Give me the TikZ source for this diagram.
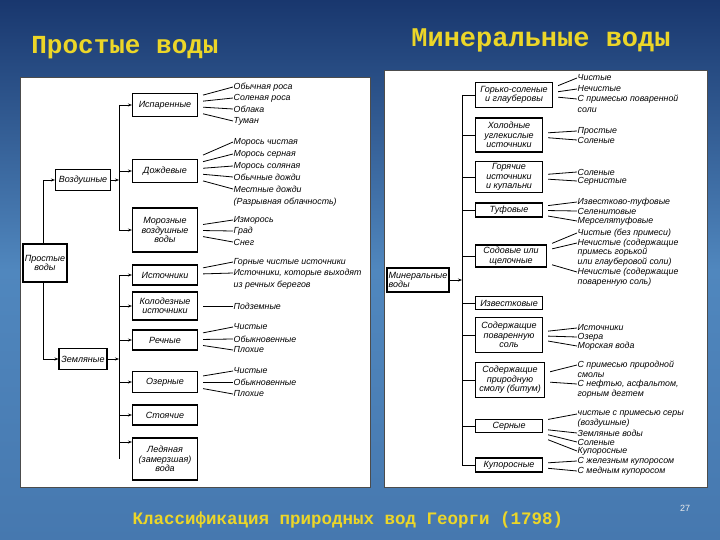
\documentclass[tikz,border=0pt]{standalone}
\usepackage{fontspec}
\setmainfont{Liberation Sans}
\newfontfamily\monof{Liberation Mono}
\usetikzlibrary{calc,arrows.meta}
\definecolor{ttl}{RGB}{236,214,40}
\tikzset{
 bx/.style={draw,line width=1.1pt,fill=white,align=center,inner sep=1pt,font=\fontsize{9}{9.5}\selectfont\itshape},
 lf/.style={anchor=west,inner sep=0.5pt,font=\fontsize{8.8}{9}\selectfont\itshape},
 ln/.style={line width=0.8pt},
 ar/.style={line width=0.8pt,-{Stealth[length=4pt,width=3pt]}},
 ttlst/.style={text=ttl,font=\monof\bfseries}
}
\newcommand{\lline}[2]{\draw[ln] ($(#1.east)!0.55!(#1.east|-#2.west)+(5,0)$) -- (#2.west);}
\begin{document}
\begin{tikzpicture}[x=1pt,y=-1pt]
\useasboundingbox (0,0) rectangle (720,540);
\shade[top color={rgb,255:red,25;green,55;blue,110},bottom color={rgb,255:red,70;green,120;blue,175},middle color={rgb,255:red,80;green,135;blue,190}] (0,0) rectangle (720,540);
% titles
\node[ttlst,font=\monof\bfseries\fontsize{26}{28}\selectfont] (t1) at (125,48) {Простые воды};
\node[ttlst,font=\monof\bfseries\fontsize{27}{28}\selectfont] (t2) at (541,40) {Минеральные воды};
\node[ttlst,font=\monof\bfseries\fontsize{17.5}{20}\selectfont] (cap) at (348,520) {Классификация природных вод Георги (1798)};
\node[text=white!85!gray,font=\fontsize{9}{10}\selectfont] (pg) at (685,508) {27};
% panels
\draw[fill=white,line width=1pt,draw=black!70] (20,78) rectangle (370,487);
\draw[fill=white,line width=1pt,draw=black!70] (384,71) rectangle (707,487);
% ---------- left
\node[bx,minimum width=44pt,minimum height=38pt] (pv) at (45,263) {Простые\\воды};
\node[bx,minimum width=55pt,minimum height=21pt] (vz) at (83,180) {Воздушные};
\node[bx,minimum width=48pt,minimum height=21pt] (zm) at (83,359) {Земляные};
\foreach \n/\y/\h/\t in {isp/105/23/Испаренные, dozh/171/23/Дождевые, mor/230/44/{Морозные\\воздушные\\воды},
 ist/275/20/Источники, kol/306/28/{Колодезные\\источники}, rech/340/20/Речные, oz/382/21/Озерные,
 sto/415/20/Стоячие, led/459/42/{Ледяная\\(замерзшая)\\вода}}
 \node[bx,minimum width=65pt,minimum height=\h pt] (\n) at (165,\y) {\t};
\coordinate (c1) at (43,180); \coordinate (c2) at (43,359);
\draw[ln] (pv.north -| c1) -- (c1); \draw[ar] (c1) -- (vz.west);
\draw[ln] (pv.south -| c2) -- (c2); \draw[ar] (c2) -- (zm.west);
\coordinate (tr1) at (119,180); \coordinate (tr2) at (119,359);
\draw[ar] (vz.east) -- (tr1);
\draw[ar] (zm.east) -- (tr2);
\draw[ln] (isp.west -| tr1) -- (mor.west -| tr1);
\draw[ln] (ist.west -| tr2) -- (led.west -| tr2);
\foreach \n in {isp,dozh,mor}{\draw[ar] (\n.west -| tr1) -- (\n.west);}
\foreach \n in {ist,kol,rech,oz,sto}{\draw[ar] (\n.west -| tr2) -- (\n.west);}
\draw[ar] ([yshift=17pt]led.west -| tr2) -- ([yshift=17pt]led.west);
% left leaves
\foreach \n/\y/\t/\b in {a1/87/Обычная роса/isp, a2/98/Соленая роса/isp, a3/109/Облака/isp, a4/121/Туман/isp,
 b1/142/Морось чистая/dozh, b2/154/Морось серная/dozh, b3/166/Морось соляная/dozh, b4/177/Обычные дожди/dozh, b5/189/Местные дожди/dozh,
 m1/220/Изморось/mor, m2/231/Град/mor, m3/242/Снег/mor,
 s1/262/Горные чистые источники/ist, s2/273/{Источники, которые выходят}/ist,
 k1/306/Подземные/kol, r1/327/Чистые/rech, r2/339/Обыкновенные/rech, r3/350/Плохие/rech,
 o1/371/Чистые/oz, o2/382/Обыкновенные/oz, o3/394/Плохие/oz}
 {\node[lf] (\n) at (233,\y) {\t}; \lline{\b}{\n}}
\node[lf] (b6) at (233,202) {(Разрывная облачность)};
\node[lf] (s3) at (233,285) {из речных берегов};
% ---------- right
\node[bx,minimum width=62pt,minimum height=24pt,align=left] (mv) at (418,280) {Минеральные\\воды};
\coordinate (tr3) at (462,280);
\draw[ar] (mv.east) -- (tr3);
\foreach \n/\y/\w/\h/\t in {g1/95/77/25/{Горько-соленые\\и глауберовы}, g2/135/67/34/{Холодные\\углекислые\\источники},
 g3/177/67/31/{Горячие\\источники\\и купальни}, g4/210/67/14/Туфовые, g5/256/71/22/{Содовые или\\щелочные},
 g6/303/67/13/Известковые, g7/335/67/35/{Содержащие\\поваренную\\соль}, g8/380/69/35/{Содержащие\\природную\\смолу (битум)},
 g9/426/67/13/Серные, g10/465/67/14/Купоросные}
 {\node[bx,minimum width=\w pt,minimum height=\h pt,anchor=west] (\n) at (475,\y) {\t};
  \draw[ln] (\n.west -| tr3) -- (\n.west);}
\draw[ln] (g1.west -| tr3) -- (g10.west -| tr3);
\foreach \n/\y/\t/\b in {h1/78/Чистые/g1, h2/89/Нечистые/g1, h3/99/С примесью поваренной/g1,
 i1/131/Простые/g2, i2/140/Соленые/g2, j1/172/Соленые/g3, j2/181/Сернистые/g3,
 l1/202/Известково-туфовые/g4, l2/211/Селенитовые/g4, l3/221/Мерселятуфовые/g4,
 n1/233/Чистые (без примеси)/g5, n2/243/Нечистые (содержащие/g5, n5/272/Нечистые (содержащие/g5,
 p1/328/Источники/g7, p2/337/Озера/g7, p3/346/Морская вода/g7,
 q1/365/С примесью природной/g8, q3/384/{С нефтью, асфальтом,}/g8,
 u1/414/чистые с примесью серы/g9, u3/433/Земляные воды/g9, u4/442/Соленые/g9, u5/451/Купоросные/g9,
 v1/461/С железным купоросом/g10, v2/471/С медным купоросом/g10}
 {\node[lf] (\n) at (577,\y) {\t}; \lline{\b}{\n}}
\foreach \n/\y/\t in {h4/110/соли, n3/252/примесь горькой, n4/262/или глауберовой соли), n6/282/поваренную соль),
 q2/375/смолы, q4/394/горным дегтем, u2/423/(воздушные)}
 \node[lf] (\n) at (577,\y) {\t};
\end{tikzpicture}
\end{document}
